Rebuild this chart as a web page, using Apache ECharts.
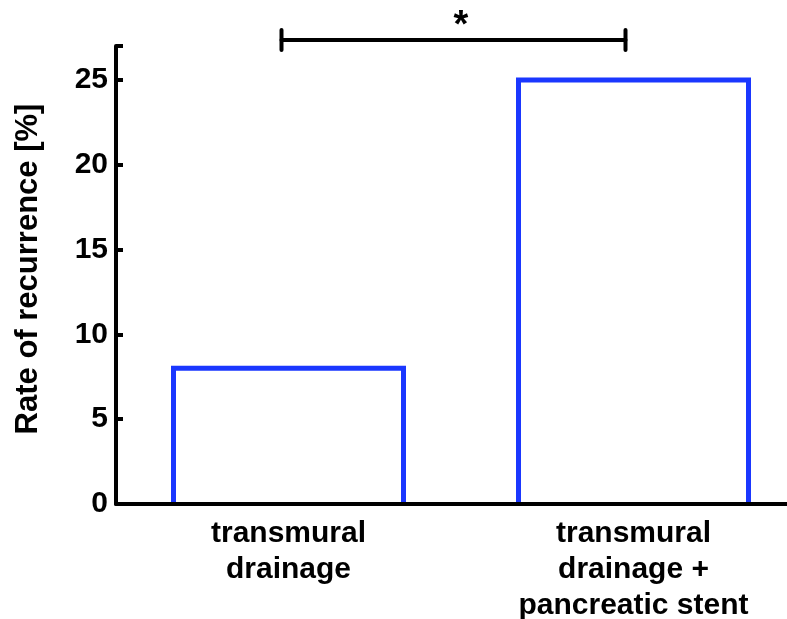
<!DOCTYPE html>
<html>
<head>
<meta charset="utf-8">
<script src="https://cdn.jsdelivr.net/npm/echarts@6/dist/echarts.min.js"></script>
<style>html,body{margin:0;padding:0;background:#fff;}#c{width:787px;height:619px;}</style>
</head>
<body>
<div id="c"></div>
<script>
var categories = ['transmural\ndrainage', 'transmural\ndrainage +\npancreatic stent'];
var recurrence = [8, 25];
var yTicks = [0, 5, 10, 15, 20, 25];
var significance = [[0, 1, '*']];

var FONT = '"Liberation Sans", Arial, sans-serif';
var BLUE = '#1a37ff';
var BAR_W = 230;
var chart = echarts.init(document.getElementById('c'));
chart.setOption({
  animation: false,
  backgroundColor: '#fff',
  grid: { left: 116, top: 46, bottom: 115, right: -19, outerBoundsMode: 'none', containLabel: false },
  xAxis: {
    type: 'category',
    data: categories,
    z: 10,
    axisLine: { lineStyle: { color: '#000', width: 4 } },
    axisTick: { inside: true, alignWithLabel: true, length: 8, lineStyle: { color: '#000', width: 4 } },
    axisLabel: { color: '#000', fontFamily: FONT, fontWeight: 'bold', fontSize: 30, lineHeight: 36, margin: 12, interval: 0 },
    splitLine: { show: false }
  },
  yAxis: {
    type: 'value',
    min: 0, max: 27, interval: 5,
    z: 10,
    name: 'Rate of recurrence [%]',
    nameLocation: 'middle',
    nameGap: 72,
    nameTextStyle: { color: '#000', fontFamily: FONT, fontWeight: 'bold', fontSize: 31, padding: [0, 0, 0, 12] },
    axisLine: { show: true, lineStyle: { color: '#000', width: 4 } },
    axisTick: { show: true, inside: true, length: 7, lineStyle: { color: '#000', width: 4 } },
    axisLabel: {
      color: '#000', fontFamily: FONT, fontWeight: 'bold', fontSize: 30, margin: 8,
      formatter: function (v) { return yTicks.indexOf(v) >= 0 ? String(v) : ''; }
    },
    splitLine: { show: false }
  },
  series: [
    {
      type: 'custom',
      z: 2,
      clip: false,
      data: recurrence.map(function (v, i) { return [i, v]; }),
      renderItem: function (params, api) {
        var top = api.coord([api.value(0), api.value(1)]);
        var base = api.coord([api.value(0), 0]);
        var x0 = top[0] - BAR_W / 2, x1 = top[0] + BAR_W / 2;
        return {
          type: 'polyline',
          shape: { points: [[x0, base[1]], [x0, top[1]], [x1, top[1]], [x1, base[1]]] },
          style: { stroke: BLUE, lineWidth: 5, fill: null, lineJoin: 'miter' }
        };
      }
    },
    {
      type: 'custom',
      clip: false,
      z: 20,
      data: significance,
      renderItem: function (params, api) {
        var a = api.value(0), b = api.value(1);
        var p1 = api.coord([a, 27]);
        var p2 = api.coord([b, 27]);
        var y = p1[1] - 6;
        var x1 = p1[0] - 7, x2 = p2[0] - 8;
        var st = { stroke: '#000', lineWidth: 4, lineCap: 'round' };
        return {
          type: 'group',
          children: [
            { type: 'line', shape: { x1: x1, y1: y, x2: x2, y2: y }, style: st },
            { type: 'line', shape: { x1: x1, y1: y - 10, x2: x1, y2: y + 10 }, style: st },
            { type: 'line', shape: { x1: x2, y1: y - 10, x2: x2, y2: y + 10 }, style: st },
            { type: 'text', x: (p1[0] + p2[0]) / 2, y: y - 13,
              style: { text: significance[params.dataIndex][2], fill: '#000', font: 'bold 38px ' + FONT, align: 'center', verticalAlign: 'middle' } }
          ]
        };
      }
    }
  ]
});
</script>
</body>
</html>
